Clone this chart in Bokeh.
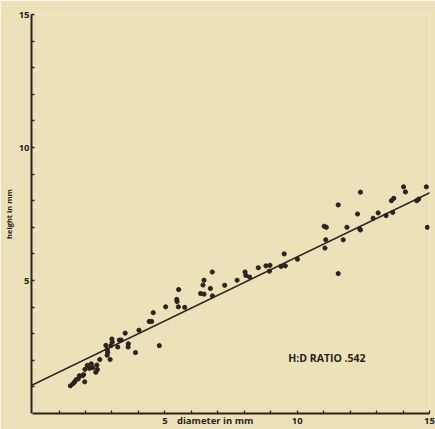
from bokeh.plotting import figure
from bokeh.models import Range1d, FixedTicker, Label, ColumnDataSource, Slope
from bokeh.embed import file_html
from bokeh.resources import INLINE

# data
diameter = [1.43, 1.53, 1.59, 1.65, 1.73, 1.77, 1.89, 1.93, 1.97, 1.98,
            2.07, 2.15, 2.22, 2.28, 2.43, 2.39, 2.45, 2.54, 2.77, 2.82,
            2.84, 2.82, 2.93, 2.96, 3.00, 3.01, 3.22, 3.28, 3.35, 3.50,
            3.62, 3.61, 3.89, 4.02, 4.41, 4.50, 4.56, 4.79, 5.03, 5.51,
            5.75, 5.45, 5.46, 5.52, 6.35, 6.48, 6.44, 6.48, 6.72, 6.79,
            6.80, 7.26, 7.73, 8.03, 8.06, 8.20, 8.53, 8.82, 8.97, 8.95,
            9.39, 9.55, 9.51, 10.01, 11.02, 11.10, 11.08, 11.05, 11.55, 11.55,
            11.74, 11.88, 12.28, 12.36, 12.39, 12.39, 12.87, 13.06, 13.36, 13.61,
            13.56, 13.65, 14.02, 14.09, 14.52, 14.59, 14.88, 14.92]
height = [1.04, 1.12, 1.19, 1.27, 1.31, 1.42, 1.42, 1.46, 1.19, 1.66,
          1.81, 1.70, 1.87, 1.72, 1.82, 1.55, 1.65, 2.03, 2.56, 2.40,
          2.30, 2.19, 2.03, 2.55, 2.80, 2.68, 2.50, 2.76, 2.76, 3.02,
          2.62, 2.50, 2.29, 3.13, 3.46, 3.46, 3.79, 2.55, 4.01, 4.01,
          3.99, 4.29, 4.21, 4.66, 4.51, 4.49, 4.83, 5.01, 4.70, 5.32,
          4.42, 4.82, 5.01, 5.32, 5.19, 5.13, 5.48, 5.55, 5.57, 5.35,
          5.53, 5.55, 6.00, 5.80, 7.04, 7.00, 6.53, 6.22, 7.84, 5.26,
          6.53, 7.00, 7.50, 6.94, 6.90, 8.32, 7.34, 7.54, 7.44, 7.56,
          8.00, 8.09, 8.52, 8.33, 8.00, 8.06, 8.52, 7.00]
fit_intercept = 1.08
fit_slope = 0.481
major_ticks = [5, 10, 15]
minor_ticks = list(range(1, 16))
x_title_pos = 6.9
ratio_text = "H:D RATIO .542"

BG = "#ebe2b9"
INK = "#2a241c"
FONT = "Open Sans"

p = figure(width=435, height=429, output_backend="svg", toolbar_location=None,
           x_range=Range1d(-0.04, 15.0), y_range=Range1d(0, 15),
           min_border_left=31, min_border_right=6, min_border_top=14,
           min_border_bottom=12, background_fill_color=BG,
           border_fill_color=BG, outline_line_color=None)
p.grid.visible = False

for ax in (p.xaxis[0], p.yaxis[0]):
    ax.bounds = (0, 15)
    ax.axis_line_color = INK
    ax.axis_line_width = 2
    ax.major_tick_in = 0
    ax.major_tick_out = 0
    ax.minor_tick_in = 3
    ax.minor_tick_out = 0
    ax.minor_tick_line_color = INK
    ax.minor_tick_line_width = 1.3
    ax.major_label_text_font = FONT
    ax.major_label_text_font_style = "bold"
    ax.major_label_text_font_size = "9.5px"
    ax.major_label_text_color = INK
    ax.major_label_standoff = 0

# x axis: numbers plus the title sitting between 5 and 10
p.xaxis[0].ticker = FixedTicker(ticks=major_ticks + [x_title_pos], minor_ticks=minor_ticks)
p.xaxis[0].major_label_overrides = {x_title_pos: "diameter in mm"}

p.yaxis[0].ticker = FixedTicker(ticks=major_ticks, minor_ticks=minor_ticks)
p.yaxis[0].major_label_standoff = 2
p.yaxis[0].axis_label = "height in mm"
p.yaxis[0].axis_label_text_font = FONT
p.yaxis[0].axis_label_text_font_style = "bold"
p.yaxis[0].axis_label_text_font_size = "7.5px"
p.yaxis[0].axis_label_text_color = INK
p.yaxis[0].axis_label_standoff = 2

# regression line
p.add_layout(Slope(gradient=fit_slope, y_intercept=fit_intercept,
                   line_color=INK, line_width=1.6))

src = ColumnDataSource(dict(x=diameter, y=height))
p.scatter("x", "y", source=src, size=4.2, fill_color=INK, line_color=INK)

p.add_layout(Label(x=9.66, y=2.09, text=ratio_text, text_font=FONT,
                   text_font_style="bold", text_font_size="10.5px",
                   text_color=INK, text_baseline="middle", text_align="left"))

open("out.html", "w").write(file_html(p, INLINE))
